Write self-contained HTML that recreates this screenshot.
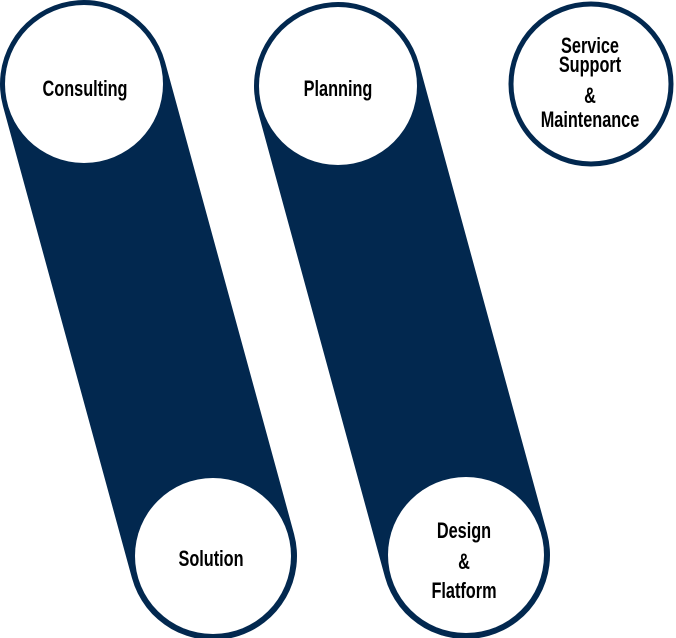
<!DOCTYPE html>
<html><head><meta charset="utf-8"><style>
html,body{margin:0;padding:0;background:#fff;width:676px;height:638px;overflow:hidden}
text{font-family:"Liberation Sans",sans-serif;font-weight:bold;font-size:22px;fill:#000}
</style></head><body>
<svg width="676" height="638" viewBox="0 0 676 638" xmlns="http://www.w3.org/2000/svg">
<g stroke="#02284f" stroke-linecap="round">
<line x1="84" y1="84" x2="213" y2="556" stroke-width="168"/>
<line x1="338" y1="86" x2="466" y2="555" stroke-width="168"/>
</g>
<g fill="#fff">
<circle cx="84" cy="84" r="79"/>
<circle cx="213" cy="556" r="78"/>
<circle cx="338" cy="86" r="79"/>
<circle cx="466" cy="555" r="78"/>
<circle cx="591" cy="84" r="80" stroke="#02284f" stroke-width="5"/>
</g>
<g text-anchor="middle">
<text transform="translate(85,96) scale(0.74,1)">Consulting</text>
<text transform="translate(338,96) scale(0.74,1)">Planning</text>
<text transform="translate(211,566) scale(0.74,1)">Solution</text>
<text transform="translate(464,538) scale(0.74,1)">Design</text>
<text transform="translate(464,569) scale(0.74,1)">&amp;</text>
<text transform="translate(464,598) scale(0.74,1)">Flatform</text>
<text transform="translate(590,53) scale(0.74,1)">Service</text>
<text transform="translate(590,72) scale(0.74,1)">Support</text>
<text transform="translate(590,103) scale(0.74,1)">&amp;</text>
<text transform="translate(590,127) scale(0.74,1)">Maintenance</text>
</g>
</svg>
</body></html>
